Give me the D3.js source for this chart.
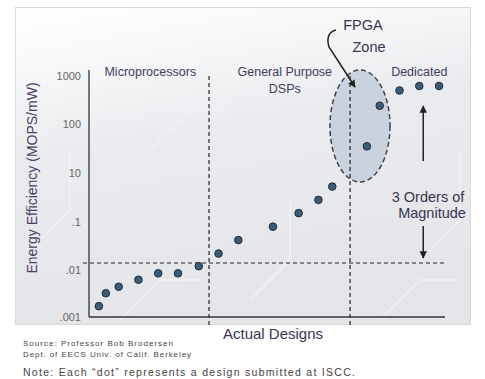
<!DOCTYPE html>
<meta charset="utf-8">
<script src="https://cdn.jsdelivr.net/npm/d3@7"></script>
<style>
body { margin: 0; background: #fff; }
text { font-family: "Liberation Sans", Arial, sans-serif; }
.tick-label { fill: #666; font-size: 11px; }
.region { fill: #433d5e; font-size: 12.5px; }
.note { fill: #444; }
</style>
<body>
<script>

// y tick labels (the slide skips "1", ticks are evenly spaced)
var tickLabels = ["1000", "100", "10", ".1", ".01", ".001"];
var tickValues = [1000, 100, 10, 0.1, 0.01, 0.001];

// each dot = one design, x = position along "Actual Designs", y = MOPS/mW
var designPos = [0.5, 0.85, 1.5, 2.5, 3.5, 4.5, 5.55, 6.55, 7.55, 9.3, 10.6, 11.6, 12.3, 14.05, 14.7, 15.7, 16.7, 17.7];
var efficiency = [0.0017, 0.0032, 0.0044, 0.0062, 0.0085, 0.0085, 0.012, 0.022, 0.042, 0.08, 0.23, 0.8, 2.8, 35, 240, 500, 620, 620];

// region dividers and labels
var dividers = [6.07, 13.2];
var regions = [
  {name: ["Microprocessors"], pos: 3.1},
  {name: ["General Purpose", "DSPs"], pos: 9.9},
  {name: ["Dedicated"], pos: 16.7}
];
var baseline = 0.014;   // dashed horizontal line
var ordersPos = 16.9;   // "3 Orders of Magnitude" arrow

var width = 485, height = 379;

var svg = d3.select("body").append("svg")
    .attr("width", width)
    .attr("height", height);

var defs = svg.append("defs");
var grad = defs.append("linearGradient")
    .attr("id", "bg").attr("x1", 0).attr("y1", 0).attr("x2", 0.25).attr("y2", 1);
grad.append("stop").attr("offset", "0%").attr("stop-color", "#ffffff");
grad.append("stop").attr("offset", "22%").attr("stop-color", "#f6f7f8");
grad.append("stop").attr("offset", "45%").attr("stop-color", "#e9ebee");
grad.append("stop").attr("offset", "100%").attr("stop-color", "#e3e5e9");

defs.append("marker")
    .attr("id", "head")
    .attr("viewBox", "0 0 10 10")
    .attr("refX", 9).attr("refY", 5)
    .attr("markerWidth", 5).attr("markerHeight", 5)
    .attr("orient", "auto")
  .append("path")
    .attr("d", "M0,0 L10,5 L0,10 z")
    .attr("fill", "#222");

// picture box
svg.append("rect")
    .attr("x", 15.5).attr("y", 7.5)
    .attr("width", 455).attr("height", 317)
    .attr("fill", "url(#bg)")
    .attr("stroke", "#d8d8d8");

// faint circuit texture
var tex = svg.append("g").attr("stroke", "#f4f5f7").attr("fill", "none").attr("stroke-width", 2).attr("opacity", 0.6);
[[30, 250, 70, 210, 70, 150], [120, 320, 160, 280, 200, 280], [250, 300, 290, 260, 290, 200],
 [380, 320, 420, 280, 460, 280], [430, 250, 460, 220, 460, 150], [150, 150, 190, 110, 230, 110]].forEach(function(p) {
  tex.append("path").attr("d", "M" + p[0] + "," + p[1] + "L" + p[2] + "," + p[3] + "L" + p[4] + "," + p[5]);
});

var x = d3.scaleLinear().domain([0, 18]).range([89, 445]);
// evenly spaced decades with the "1" decade left out
var yPos = d3.scaleLinear()
    .domain([-3, -2, -1, 1, 2, 3])
    .range([317, 270, 222, 173, 124, 76]);
function y(v) { return yPos(Math.log10(v)); }

// tick labels
svg.append("g").selectAll("text")
    .data(tickValues)
    .enter().append("text")
    .attr("class", "tick-label")
    .attr("x", 81)
    .attr("y", function(d) { return y(d); })
    .attr("dy", "0.35em")
    .attr("text-anchor", "end")
    .text(function(d, i) { return tickLabels[i]; });

// y axis title
svg.append("text")
    .attr("transform", "translate(37,178) rotate(-90)")
    .attr("text-anchor", "middle")
    .attr("fill", "#4a3f66")
    .style("font-size", "14px")
    .text("Energy Efficiency (MOPS/mW)");

// FPGA zone ellipse
svg.append("ellipse")
    .attr("cx", 360).attr("cy", 126)
    .attr("rx", 30).attr("ry", 56)
    .attr("fill", "#c3cedb")
    .attr("fill-opacity", 0.85)
    .attr("stroke", "#444")
    .attr("stroke-width", 1.5)
    .attr("stroke-dasharray", "5,3");

// dashed dividers
svg.append("g").selectAll("line")
    .data(dividers)
    .enter().append("line")
    .attr("x1", function(d) { return x(d); })
    .attr("x2", function(d) { return x(d); })
    .attr("y1", 76)
    .attr("y2", 325)
    .attr("stroke", "#222")
    .attr("stroke-width", 1.2)
    .attr("stroke-dasharray", "4,3");

svg.append("line")
    .attr("x1", 83).attr("x2", x(18))
    .attr("y1", y(baseline)).attr("y2", y(baseline))
    .attr("stroke", "#222")
    .attr("stroke-width", 1.2)
    .attr("stroke-dasharray", "4,3");

// axes lines
svg.append("line")
    .attr("x1", x(0)).attr("x2", x(0))
    .attr("y1", 70).attr("y2", 317)
    .attr("stroke", "#333").attr("stroke-width", 1.3);
svg.append("line")
    .attr("x1", x(0)).attr("x2", x(18))
    .attr("y1", 317).attr("y2", 317)
    .attr("stroke", "#333").attr("stroke-width", 1.3);

// region labels
var reg = svg.append("g").selectAll("text")
    .data(regions)
    .enter().append("text")
    .attr("class", "region")
    .attr("text-anchor", "middle")
    .attr("x", function(d) { return x(d.pos); })
    .attr("y", 76);
reg.selectAll("tspan")
    .data(function(d) { return d.name.map(function(n) { return {n: n, px: x(d.pos)}; }); })
    .enter().append("tspan")
    .attr("x", function(d) { return d.px; })
    .attr("dy", function(d, i) { return i ? 17 : 0; })
    .text(function(d) { return d.n; });

// dots
svg.append("g").selectAll("circle")
    .data(designPos)
    .enter().append("circle")
    .attr("cx", function(d) { return x(d); })
    .attr("cy", function(d, i) { return y(efficiency[i]); })
    .attr("r", 3.8)
    .attr("fill", "#3b5c78")
    .attr("stroke", "#1c2d3c")
    .attr("stroke-width", 1);

// FPGA callout
svg.append("text")
    .attr("x", 363).attr("y", 30)
    .attr("text-anchor", "middle")
    .attr("fill", "#3a3550")
    .style("font-size", "14.5px")
    .text("FPGA");
svg.append("text")
    .attr("x", 369).attr("y", 52)
    .attr("text-anchor", "middle")
    .attr("fill", "#3a3550")
    .style("font-size", "14.5px")
    .text("Zone");
svg.append("path")
    .attr("d", "M336,30 Q325,33 329,47 L355,87")
    .attr("fill", "none")
    .attr("stroke", "#222")
    .attr("stroke-width", 1.5)
    .attr("marker-end", "url(#head)");

// 3 orders of magnitude
svg.append("line")
    .attr("x1", x(ordersPos)).attr("x2", x(ordersPos))
    .attr("y1", 161).attr("y2", y(1000) + 30)
    .attr("stroke", "#222").attr("stroke-width", 1.5)
    .attr("marker-end", "url(#head)");
svg.append("line")
    .attr("x1", x(ordersPos)).attr("x2", x(ordersPos))
    .attr("y1", 226).attr("y2", y(baseline) - 5)
    .attr("stroke", "#222").attr("stroke-width", 1.5)
    .attr("marker-end", "url(#head)");
svg.append("text")
    .attr("x", 428).attr("y", 202)
    .attr("text-anchor", "middle")
    .attr("fill", "#3a3550")
    .style("font-size", "14.5px")
    .text("3 Orders of");
svg.append("text")
    .attr("x", 432).attr("y", 218)
    .attr("text-anchor", "middle")
    .attr("fill", "#3a3550")
    .style("font-size", "14.5px")
    .text("Magnitude");

// x axis title
svg.append("text")
    .attr("x", 273).attr("y", 339)
    .attr("text-anchor", "middle")
    .attr("fill", "#3a3550")
    .style("font-size", "15px")
    .text("Actual Designs");

// source and note
svg.append("text")
    .attr("class", "note")
    .attr("x", 23).attr("y", 346)
    .attr("textLength", 150)
    .attr("lengthAdjust", "spacing")
    .style("font-size", "8px")
    .text("Source: Professor Bob Brodersen");
svg.append("text")
    .attr("class", "note")
    .attr("x", 23).attr("y", 357)
    .attr("textLength", 168)
    .attr("lengthAdjust", "spacing")
    .style("font-size", "8px")
    .text("Dept. of EECS Univ. of Calif. Berkeley");
svg.append("text")
    .attr("class", "note")
    .attr("x", 23).attr("y", 376)
    .attr("textLength", 332)
    .attr("lengthAdjust", "spacing")
    .style("font-size", "10.5px")
    .text("Note: Each \u201cdot\u201d represents a design submitted at ISCC.");

</script>
</body>
